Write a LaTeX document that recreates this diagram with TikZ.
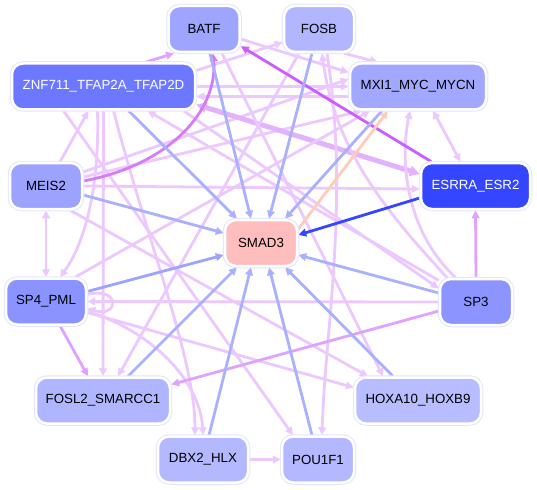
\documentclass[tikz,border=0pt]{standalone}
\usepackage{fontspec}
\setmainfont{Liberation Sans}
\usetikzlibrary{arrows.meta,backgrounds}
\definecolor{frame}{HTML}{E2E5FF}
\definecolor{nBATF}{HTML}{9EA5FF}
\definecolor{nFOSB}{HTML}{B1B6FF}
\definecolor{nZN}{HTML}{6B78FF}
\definecolor{nMXI}{HTML}{A2A8FF}
\definecolor{nMEIS}{HTML}{9CA3FF}
\definecolor{nESR}{HTML}{3446FF}
\definecolor{nSMAD}{HTML}{FFBDBD}
\definecolor{nSP4}{HTML}{8A93FF}
\definecolor{nSP3}{HTML}{8C94FF}
\definecolor{nFOSL}{HTML}{B0B5FF}
\definecolor{nHOX}{HTML}{B8BDFF}
\definecolor{nDBX}{HTML}{B3B8FF}
\definecolor{nPOU}{HTML}{B4B9FF}
\definecolor{eL}{HTML}{ECC8FF}
\definecolor{eM}{HTML}{DFA2FF}
\definecolor{eT}{HTML}{E3B2FF}
\definecolor{eS}{HTML}{D57BFA}
\definecolor{eX}{HTML}{CC5CFF}
\definecolor{bL}{HTML}{A9B1FF}
\definecolor{bD}{HTML}{9BA5FF}
\definecolor{bS}{HTML}{3446FF}
\definecolor{pe}{HTML}{FFCCBB}
\begin{document}
\begin{tikzpicture}[x=1pt,y=-1pt,
  tf/.style={rounded corners=11pt, minimum height=46pt, inner sep=0pt, text=black,
    font=\fontsize{13.3}{15}\selectfont,
    preaction={draw=frame, line width=4.5pt}, draw=white, line width=2.5pt},
  tip/.tip={Triangle[length=8pt,width=7.5pt]},
  e/.style={line width=2.8pt, -tip},
  eb/.style={line width=2.8pt, tip-tip},
  lt/.style={e, draw=eL},
  md/.style={e, draw=eM},
  st/.style={e, draw=eS},
  bl/.style={e, draw=bL},
]
\useasboundingbox (0,0) rectangle (537,489);

\node[tf, fill=nBATF, minimum width=71pt] (batf) at (204,29) {BATF};
\node[tf, fill=nFOSB, minimum width=70pt] (fosb) at (319,29) {FOSB};
\node[tf, fill=nZN, minimum width=183pt, text=white] (zn) at (103.5,86.5) {ZNF711\_TFAP2A\_TFAP2D};
\node[tf, fill=nMXI, minimum width=136pt] (mxi) at (418,86.5) {MXI1\_MYC\_MYCN};
\node[tf, fill=nMEIS, minimum width=72pt] (meis) at (46,186) {MEIS2};
\node[tf, fill=nESR, minimum width=109pt, text=white] (esr) at (475.5,186) {ESRRA\_ESR2};
\node[tf, fill=nSMAD, minimum width=72pt] (smad) at (261,243) {SMAD3};
\node[tf, fill=nSP4, minimum width=80pt] (sp4) at (46,301.5) {SP4\_PML};
\node[tf, fill=nSP3, minimum width=72pt] (sp3) at (476,302) {SP3};
\node[tf, fill=nFOSL, minimum width=134pt] (fosl) at (103,400.5) {FOSL2\_SMARCC1};
\node[tf, fill=nHOX, minimum width=126pt] (hox) at (418,400.5) {HOXA10\_HOXB9};
\node[tf, fill=nDBX, minimum width=90pt] (dbx) at (203,459.5) {DBX2\_HLX};
\node[tf, fill=nPOU, minimum width=72pt] (pou) at (318,459.5) {POU1F1};

\begin{scope}[on background layer]
% light violet edges
\draw[lt] ([xshift=14pt]meis.north) -- ([xshift=-15pt]zn.south);
\draw[eb, draw=eL] (meis.south) -- (sp4.north);
\draw[lt] ([yshift=14pt]meis.east) -- ([yshift=7.5pt]mxi.west);
\draw[lt] ([yshift=9pt]meis.east) -- ([xshift=-56pt]mxi.south);
\draw[lt] (meis.east) -- ([yshift=-3pt]esr.west);
\draw[lt] ([xshift=24pt]meis.south) -- ([xshift=-50pt]hox.north);
\draw[lt] ([xshift=-6pt]zn.south) .. controls (100,200) and (80,250) .. ([xshift=14pt]sp4.north);
\draw[lt] (zn.south) -- (fosl.north);
\draw[lt] ([xshift=10pt]zn.south) .. controls (150,250) and (195,360) .. ([xshift=-8pt]dbx.north);
\draw[lt] (zn.east) -- (mxi.west);
\draw[lt] ([yshift=-10pt]mxi.west) -- ([yshift=-10pt]zn.east);
\draw[lt] ([yshift=16pt]zn.east) -- (fosb.200);
\draw[lt] ([xshift=80pt]zn.south) -- (sp3.160);
\draw[lt] ([xshift=-40pt]zn.south) -- ([xshift=-25pt]pou.north);
\draw[line width=5pt, draw=eT, {Triangle[length=10pt,width=10pt]}-{Triangle[length=10pt,width=10pt]}] ([yshift=-18pt]zn.east) -- ([yshift=12pt]esr.west);
\draw[lt] ([yshift=-10pt]batf.east) -- ([yshift=14pt]mxi.west);
\draw[lt] ([xshift=18pt]batf.south) -- ([xshift=-35pt]hox.north);
\draw[lt] ([xshift=25pt]fosb.south) -- ([xshift=-40pt]mxi.north);
\draw[lt] ([xshift=-20pt]fosb.south) -- ([xshift=15pt]fosl.north);
\draw[lt] ([xshift=8pt]fosb.south) .. controls (350,200) and (325,330) .. ([xshift=4pt]pou.north);
\draw[eb, draw=eL] ([xshift=15pt]mxi.south) -- ([xshift=-15pt]esr.north);
\draw[lt] (sp4.40) -- ([xshift=-48pt]mxi.south);
\draw[lt] ([yshift=-10pt]sp4.east) .. controls (150,330) and (200,380) .. (dbx.north);
\draw[lt] ([yshift=-11pt]sp4.east) -- ([yshift=13pt]hox.west);
\draw[lt] ([yshift=7pt]sp4.east) .. controls (120,286) and (120,318) .. ([yshift=-7pt]sp4.east);
\draw[lt] (sp3.west) -- (sp4.east);
\draw[lt] (sp3.130) .. controls (405,230) and (400,160) .. ([xshift=-8pt]mxi.south);
\draw[lt] (sp3.140) .. controls (385,210) and (335,150) .. ([xshift=3pt]fosb.south);
\draw[lt] (sp3.150) -- ([xshift=44pt]zn.south);
\draw[lt] (dbx.east) -- (pou.west);
% medium / strong violet edges
\draw[md] ([xshift=42pt]zn.north) -- ([xshift=-30pt]batf.south);
\draw[md] ([xshift=14pt]sp4.south) -- ([xshift=-15pt]fosl.north);
\draw[md] ([yshift=-9pt]sp3.west) -- ([yshift=16pt]fosl.east);
\draw[md] (sp3.north) -- (esr.south);
\draw[st] ([yshift=5pt]meis.east) .. controls (170,165) and (218,110) .. ([xshift=9pt]batf.south);
\draw[e, draw=eX] ([xshift=-44pt]esr.north) -- (batf.-25);
% edges to SMAD3
\draw[bl] ([xshift=6pt]batf.south) -- ([xshift=-10pt]smad.north);
\draw[bl] ([xshift=-7pt]fosb.south) -- ([xshift=8pt]smad.north);
\draw[bl] ([xshift=25pt]zn.south) -- ([xshift=-24pt]smad.north);
\draw[bl] ([yshift=-9pt]meis.east) -- ([yshift=10pt]smad.west);
\draw[bl] ([xshift=-36pt]mxi.south) -- ([xshift=24pt]smad.north);
\draw[e, draw=pe] ([yshift=14pt]smad.east) -- ([xshift=-30pt]mxi.south);
\draw[e, draw=bS] ([yshift=-12pt]esr.west) -- ([yshift=8pt]smad.east);
\draw[e, draw=bD] ([yshift=10pt]sp4.east) -- ([yshift=-12pt]smad.west);
\draw[bl] ([xshift=25pt]fosl.north) -- ([xshift=-24pt]smad.south);
\draw[bl] ([xshift=6pt]dbx.north) -- ([xshift=-10pt]smad.south);
\draw[bl] ([xshift=-6pt]pou.north) -- ([xshift=8pt]smad.south);
\draw[bl] ([xshift=-25pt]hox.north) -- ([xshift=24pt]smad.south);
\draw[bl] ([yshift=9pt]sp3.west) -- ([yshift=-12pt]smad.east);
\end{scope}
\end{tikzpicture}
\end{document}
